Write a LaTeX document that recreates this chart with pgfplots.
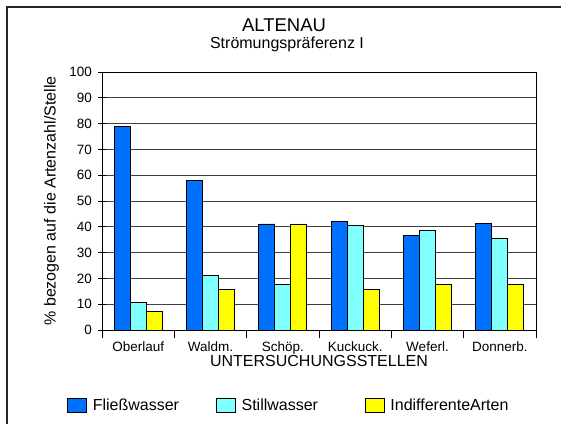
\documentclass[border=0pt]{standalone}
\usepackage{pgfplots}
\pgfplotsset{compat=1.18}
\usepackage{fontspec}
\setmainfont{Liberation Sans}
\definecolor{fliess}{RGB}{0,112,255}
\definecolor{still}{RGB}{128,255,255}
\definecolor{indiff}{RGB}{255,255,0}
\pgfplotsset{mylegend/.style={legend image code/.code={%
  \draw[##1,draw=black,line width=0.8bp] (0bp,-7bp) rectangle (19bp,7bp);
  \path (25bp,0bp);}}}
\begin{document}
\begin{tikzpicture}
\useasboundingbox (-102bp,-94bp) rectangle (459bp,330bp);
\draw[black!85, line width=2bp] (-95bp,-100bp) -- (-95bp,323bp) -- (470bp,323bp);
\begin{axis}[
 at={(0bp,0bp)}, anchor=south west,
 scale only axis, width=434bp, height=258bp,
 xmin=-0.5, xmax=5.5, ymin=0, ymax=100,
 xtick={-0.5,0.5,...,5.5},
 x tick label as interval,
 xticklabels={Oberlauf,Waldm.,Schöp.,Kuckuck.,Weferl.,Donnerb.},
 ytick={0,10,...,100},
 xtick pos=bottom, ytick pos=left,
 tick align=center, major tick length=8bp,
 tick style={black, line width=0.8bp},
 ymajorgrids, major grid style={black!75, line width=0.8bp},
 axis line style={black, line width=0.8bp},
 ybar=0pt, bar width=16bp,
 /pgf/number format/assume math mode=true,
 tick label style={font=\fontsize{13.5bp}{16bp}\selectfont},
 yticklabel style={xshift=-2.5bp},
 ylabel={\% bezogen auf die Artenzahl/Stelle},
 ylabel style={at={(axis description cs:-0.1163,0.5)}, anchor=center, font=\fontsize{16bp}{19bp}\selectfont},
 xlabel={UNTERSUCHUNGSSTELLEN},
 xlabel style={at={(axis description cs:0.5,0)}, anchor=base, yshift=-36.5bp, font=\fontsize{16bp}{19bp}\selectfont},
 legend columns=3,
 legend style={draw=none, fill=none, inner sep=0pt, outer sep=0pt, column sep=0pt,
   nodes={inner sep=0pt},
   at={(axis description cs:-0.0806,-0.2907)}, anchor=west,
   font=\fontsize{16bp}{19bp}\selectfont},
]
\addplot[fill=fliess, draw=black, line width=0.8bp, mylegend] coordinates {(0,78.8) (1,57.9) (2,41.1) (3,42.2) (4,36.8) (5,41.3)};
\addlegendentry{\makebox[123bp][l]{Fließwasser}}
\addplot[fill=still, draw=black, line width=0.8bp, mylegend] coordinates {(0,10.6) (1,21.1) (2,17.5) (3,40.4) (4,38.6) (5,35.4)};
\addlegendentry{\makebox[123bp][l]{Stillwasser}}
\addplot[fill=indiff, draw=black, line width=0.8bp, mylegend] coordinates {(0,7.1) (1,15.7) (2,41.1) (3,15.7) (4,17.5) (5,17.5)};
\addlegendentry{\makebox[123bp][l]{IndifferenteArten}}
\end{axis}
\node[anchor=base, font=\fontsize{18.5bp}{22bp}\selectfont] at (182bp,298.3bp) {ALTENAU};
\node[anchor=base, font=\fontsize{16bp}{19bp}\selectfont] at (185bp,281bp) {Strömungspräferenz I};
\end{tikzpicture}
\end{document}
